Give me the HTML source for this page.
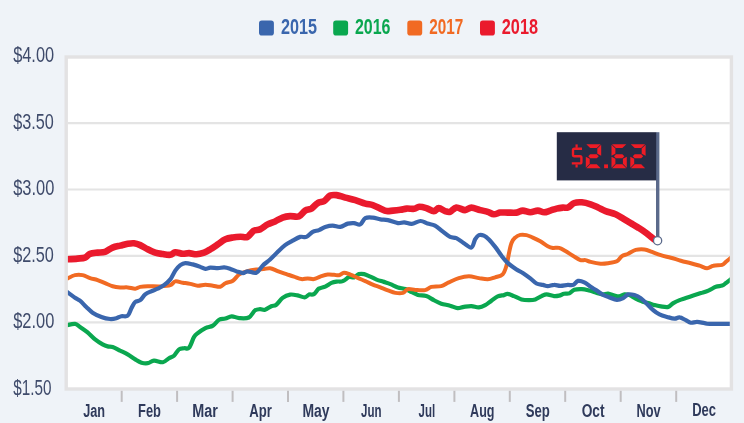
<!DOCTYPE html><html><head><meta charset="utf-8"><title>chart</title>
<style>html,body{margin:0;padding:0;background:#eff3f8;}body{width:744px;height:423px;overflow:hidden;font-family:"Liberation Sans",sans-serif;}svg{display:block;will-change:transform;}text{font-family:"Liberation Sans",sans-serif;}</style></head><body>
<svg width="744" height="423" viewBox="0 0 744 423">
<rect x="66.2" y="57" width="665.2" height="332" fill="#ffffff" stroke="#e3e2e3" stroke-width="3.4"/>
<line x1="67.9" x2="729.8" y1="123.1" y2="123.1" stroke="#e4e4e4" stroke-width="2.2"/>
<line x1="67.9" x2="729.8" y1="189.5" y2="189.5" stroke="#e4e4e4" stroke-width="2.2"/>
<line x1="67.9" x2="729.8" y1="255.9" y2="255.9" stroke="#e4e4e4" stroke-width="2.2"/>
<line x1="67.9" x2="729.8" y1="322.3" y2="322.3" stroke="#e4e4e4" stroke-width="2.2"/>
<line x1="121.7" x2="121.7" y1="390.8" y2="401.9" stroke="#c0bec0" stroke-width="2"/>
<line x1="177.1" x2="177.1" y1="390.8" y2="401.9" stroke="#c0bec0" stroke-width="2"/>
<line x1="232.6" x2="232.6" y1="390.8" y2="401.9" stroke="#c0bec0" stroke-width="2"/>
<line x1="288.0" x2="288.0" y1="390.8" y2="401.9" stroke="#c0bec0" stroke-width="2"/>
<line x1="343.4" x2="343.4" y1="390.8" y2="401.9" stroke="#c0bec0" stroke-width="2"/>
<line x1="398.9" x2="398.9" y1="390.8" y2="401.9" stroke="#c0bec0" stroke-width="2"/>
<line x1="454.4" x2="454.4" y1="390.8" y2="401.9" stroke="#c0bec0" stroke-width="2"/>
<line x1="509.8" x2="509.8" y1="390.8" y2="401.9" stroke="#c0bec0" stroke-width="2"/>
<line x1="565.2" x2="565.2" y1="390.8" y2="401.9" stroke="#c0bec0" stroke-width="2"/>
<line x1="620.7" x2="620.7" y1="390.8" y2="401.9" stroke="#c0bec0" stroke-width="2"/>
<line x1="676.2" x2="676.2" y1="390.8" y2="401.9" stroke="#c0bec0" stroke-width="2"/>
<text x="13.2" y="62.3" font-size="22.7" fill="#3f4b6b" textLength="40.9" lengthAdjust="spacingAndGlyphs">$4.00</text>
<text x="13.2" y="128.8" font-size="22.7" fill="#3f4b6b" textLength="40.6" lengthAdjust="spacingAndGlyphs">$3.50</text>
<text x="13.2" y="195.3" font-size="22.7" fill="#3f4b6b" textLength="41.1" lengthAdjust="spacingAndGlyphs">$3.00</text>
<text x="13.2" y="261.8" font-size="22.7" fill="#3f4b6b" textLength="40.7" lengthAdjust="spacingAndGlyphs">$2.50</text>
<text x="13.2" y="328.3" font-size="22.7" fill="#3f4b6b" textLength="41.1" lengthAdjust="spacingAndGlyphs">$2.00</text>
<text x="13.2" y="394.8" font-size="22.7" fill="#3f4b6b" textLength="38.2" lengthAdjust="spacingAndGlyphs">$1.50</text>
<text x="83.2" y="417.4" font-size="19.2" font-weight="bold" fill="#2f3a5b" textLength="21.9" lengthAdjust="spacingAndGlyphs">Jan</text>
<text x="138.1" y="417.4" font-size="19.2" font-weight="bold" fill="#2f3a5b" textLength="22.9" lengthAdjust="spacingAndGlyphs">Feb</text>
<text x="192.2" y="417.4" font-size="19.2" font-weight="bold" fill="#2f3a5b" textLength="25.6" lengthAdjust="spacingAndGlyphs">Mar</text>
<text x="249.2" y="417.4" font-size="19.2" font-weight="bold" fill="#2f3a5b" textLength="22.6" lengthAdjust="spacingAndGlyphs">Apr</text>
<text x="302.4" y="417.4" font-size="19.2" font-weight="bold" fill="#2f3a5b" textLength="27.1" lengthAdjust="spacingAndGlyphs">May</text>
<text x="361.1" y="417.4" font-size="19.2" font-weight="bold" fill="#2f3a5b" textLength="20.5" lengthAdjust="spacingAndGlyphs">Jun</text>
<text x="418.5" y="417.4" font-size="19.2" font-weight="bold" fill="#2f3a5b" textLength="16.6" lengthAdjust="spacingAndGlyphs">Jul</text>
<text x="470.1" y="417.4" font-size="19.2" font-weight="bold" fill="#2f3a5b" textLength="24.4" lengthAdjust="spacingAndGlyphs">Aug</text>
<text x="525.7" y="417.4" font-size="19.2" font-weight="bold" fill="#2f3a5b" textLength="24.1" lengthAdjust="spacingAndGlyphs">Sep</text>
<text x="581.7" y="417.4" font-size="19.2" font-weight="bold" fill="#2f3a5b" textLength="22.9" lengthAdjust="spacingAndGlyphs">Oct</text>
<text x="636.6" y="417.4" font-size="19.2" font-weight="bold" fill="#2f3a5b" textLength="24.1" lengthAdjust="spacingAndGlyphs">Nov</text>
<text x="692.2" y="416.4" font-size="19.2" font-weight="bold" fill="#2f3a5b" textLength="23.8" lengthAdjust="spacingAndGlyphs">Dec</text>
<rect x="259" y="20.6" width="14.9" height="14.9" rx="2.8" fill="#3a66ad"/>
<text x="281" y="34.4" font-size="22.9" font-weight="bold" fill="#3a66ad" textLength="36" lengthAdjust="spacingAndGlyphs">2015</text>
<rect x="333.2" y="20.6" width="14.9" height="14.9" rx="2.8" fill="#0aa74f"/>
<text x="355" y="34.4" font-size="22.9" font-weight="bold" fill="#0aa74f" textLength="35.5" lengthAdjust="spacingAndGlyphs">2016</text>
<rect x="407.3" y="20.6" width="14.9" height="14.9" rx="2.8" fill="#f16a23"/>
<text x="429.2" y="34.4" font-size="22.9" font-weight="bold" fill="#f16a23" textLength="34" lengthAdjust="spacingAndGlyphs">2017</text>
<rect x="480" y="20.6" width="14.9" height="14.9" rx="2.8" fill="#ea1a2d"/>
<text x="501.8" y="34.4" font-size="22.9" font-weight="bold" fill="#ea1a2d" textLength="36.2" lengthAdjust="spacingAndGlyphs">2018</text>
<defs><clipPath id="pc"><rect x="67.9" y="58.7" width="661.9" height="328.6"/></clipPath></defs>
<path d="M66.5,325.3C67.9,325.1 72.8,323.6 75.0,323.9C77.2,324.2 77.9,325.5 80.0,326.9C82.1,328.3 85.1,330.3 87.6,332.4C90.1,334.5 92.6,337.4 95.1,339.4C97.6,341.4 100.5,343.2 102.6,344.4C104.7,345.6 105.9,346.0 107.6,346.4C109.3,346.8 110.5,346.2 112.6,346.9C114.7,347.6 117.7,349.4 120.2,350.7C122.7,351.9 125.2,352.9 127.7,354.4C130.2,355.8 132.9,358.0 135.2,359.4C137.5,360.8 139.4,362.1 141.5,362.7C143.6,363.3 145.6,363.5 147.7,363.2C149.8,362.9 151.5,360.9 154.0,360.7C156.5,360.5 160.3,362.6 162.8,362.2C165.3,361.8 167.1,359.3 169.0,358.2C170.9,357.1 172.3,357.2 174.0,355.7C175.7,354.2 177.3,350.6 179.0,349.4C180.7,348.1 182.4,348.5 184.1,348.2C185.8,347.9 187.4,349.6 189.1,347.7C190.8,345.8 192.6,339.3 194.1,336.9C195.6,334.5 195.9,334.6 197.8,333.1C199.7,331.6 202.9,329.4 205.4,328.1C207.9,326.9 210.6,327.0 212.9,325.6C215.2,324.2 217.0,321.0 219.1,319.8C221.2,318.6 223.3,319.2 225.4,318.6C227.5,318.0 229.4,316.4 231.7,316.3C234.0,316.2 236.3,317.9 239.2,318.1C242.0,318.3 246.2,318.8 248.8,317.5C251.4,316.2 253.1,311.8 255.0,310.4C256.9,309.0 258.3,309.3 260.0,309.2C261.7,309.1 263.2,310.2 265.1,309.7C267.0,309.2 269.4,307.0 271.3,306.2C273.2,305.4 274.4,306.1 276.3,304.7C278.2,303.3 280.3,299.6 282.6,297.9C284.9,296.2 287.6,295.0 290.1,294.6C292.6,294.2 295.2,294.9 297.6,295.4C300.0,295.9 302.8,297.5 304.7,297.4C306.6,297.3 307.4,295.2 308.9,294.6C310.4,294.1 312.2,295.1 313.9,294.1C315.6,293.1 317.0,289.9 318.9,288.6C320.8,287.4 323.1,287.6 325.2,286.6C327.3,285.7 329.6,283.7 331.5,282.9C333.4,282.1 334.6,281.9 336.5,281.6C338.4,281.3 340.7,281.9 342.8,281.1C344.9,280.4 347.1,277.7 349.0,277.1C350.9,276.5 352.3,277.9 354.0,277.4C355.7,276.9 357.3,274.7 359.0,274.1C360.7,273.6 362.2,273.7 364.1,274.1C366.0,274.5 368.2,275.7 370.3,276.6C372.4,277.5 374.5,278.8 376.6,279.6C378.7,280.4 380.6,280.9 382.9,281.6C385.2,282.4 387.9,283.1 390.4,284.1C392.9,285.1 395.4,286.6 397.9,287.4C400.4,288.2 403.1,288.3 405.4,289.1C407.7,289.9 409.6,291.1 411.7,292.1C413.8,293.1 415.5,294.2 417.9,294.9C420.3,295.6 423.6,295.2 426.3,296.1C429.0,297.0 431.3,298.8 433.8,300.1C436.3,301.4 438.6,302.8 441.3,303.7C444.0,304.6 447.4,304.9 450.1,305.7C452.8,306.4 455.3,308.0 457.6,308.2C459.9,308.4 461.6,307.2 463.9,306.9C466.2,306.6 468.9,306.1 471.4,306.2C473.9,306.3 476.6,307.6 478.9,307.4C481.2,307.2 483.1,306.3 485.2,305.2C487.3,304.1 489.3,302.2 491.4,300.7C493.5,299.2 495.6,297.3 497.7,296.4C499.8,295.5 502.3,295.5 504.0,295.1C505.7,294.7 506.0,293.7 507.7,293.9C509.4,294.1 511.7,295.2 514.0,296.1C516.3,297.0 519.0,298.7 521.5,299.4C524.0,300.1 526.7,300.1 529.0,300.1C531.3,300.1 533.2,300.1 535.3,299.4C537.4,298.7 539.7,296.9 541.6,296.1C543.5,295.3 544.5,294.4 546.6,294.4C548.7,294.4 552.0,295.9 554.1,296.1C556.2,296.3 557.4,296.0 559.1,295.6C560.8,295.2 562.4,294.2 564.1,293.8C565.8,293.4 567.6,294.1 569.3,293.4C571.0,292.7 572.2,290.5 574.3,289.8C576.4,289.1 579.3,289.0 581.8,289.1C584.3,289.2 586.8,289.9 589.3,290.5C591.8,291.1 594.5,292.2 596.8,292.9C599.1,293.5 601.2,294.3 603.1,294.4C605.0,294.5 606.2,293.4 608.1,293.6C610.0,293.8 612.5,295.1 614.4,295.6C616.3,296.1 617.7,296.6 619.4,296.4C621.1,296.2 622.7,294.6 624.4,294.4C626.1,294.2 627.5,294.4 629.4,295.1C631.3,295.8 633.6,297.6 635.7,298.6C637.8,299.7 639.9,300.6 642.0,301.4C644.1,302.1 646.1,302.5 648.2,303.1C650.3,303.7 652.4,304.6 654.5,305.1C656.6,305.7 658.5,306.1 660.8,306.4C663.1,306.7 666.2,307.4 668.3,306.9C670.4,306.3 671.4,304.2 673.3,303.1C675.2,302.0 677.5,300.9 679.6,300.1C681.7,299.3 683.5,298.9 685.8,298.1C688.1,297.4 690.8,296.4 693.3,295.6C695.8,294.8 698.4,293.9 700.9,293.1C703.4,292.3 705.9,291.7 708.4,290.6C710.9,289.6 713.6,287.6 715.9,286.8C718.2,286.0 720.5,286.2 722.2,285.6C723.9,285.0 724.6,284.0 725.9,283.1C727.1,282.2 728.8,280.8 729.7,280.1C730.6,279.4 731.2,278.9 731.5,278.7" fill="none" stroke="#0aa74f" stroke-width="4.2" stroke-linejoin="round" stroke-linecap="butt" clip-path="url(#pc)"/>
<path d="M66.5,278.9C67.9,278.3 72.3,275.7 75.0,275.1C77.7,274.5 80.1,274.6 82.6,275.1C85.1,275.6 87.6,277.3 90.1,278.1C92.6,278.9 95.1,279.2 97.6,280.1C100.1,281.0 102.6,282.2 105.1,283.2C107.6,284.2 110.1,285.5 112.6,286.2C115.1,286.9 117.7,287.2 120.2,287.4C122.7,287.6 125.2,287.2 127.7,287.4C130.2,287.6 133.1,288.8 135.2,288.7C137.3,288.6 138.1,287.3 140.2,286.9C142.3,286.5 144.3,286.3 147.7,286.2C151.0,286.1 156.5,286.6 160.3,286.4C164.1,286.2 167.8,286.0 170.3,285.2C172.8,284.4 173.2,281.8 175.3,281.4C177.4,281.0 180.3,282.3 182.8,282.7C185.3,283.1 187.8,283.4 190.3,283.9C192.8,284.4 195.3,285.6 197.8,285.7C200.3,285.8 202.9,284.7 205.4,284.7C207.9,284.7 210.4,285.4 212.9,285.7C215.4,286.0 218.3,287.1 220.4,286.7C222.5,286.3 223.3,284.2 225.4,283.2C227.5,282.2 230.6,282.2 232.9,280.7C235.2,279.2 236.8,276.0 239.2,274.4C241.6,272.8 244.7,271.9 247.5,271.1C250.3,270.3 253.6,269.9 256.3,269.6C259.0,269.3 261.5,269.3 263.8,269.1C266.1,268.9 267.8,268.0 270.1,268.3C272.4,268.6 274.9,270.1 277.6,271.1C280.3,272.1 283.7,273.2 286.4,274.1C289.1,275.0 291.4,275.8 293.9,276.6C296.4,277.4 299.1,278.8 301.4,279.1C303.7,279.4 305.6,278.4 307.7,278.4C309.8,278.4 311.8,279.4 313.9,279.1C316.0,278.8 317.9,277.4 320.2,276.6C322.5,275.9 325.4,274.9 327.7,274.6C330.0,274.3 332.1,274.7 334.0,274.8C335.9,274.9 337.3,275.6 339.0,275.3C340.7,275.0 342.1,272.9 344.0,272.8C345.9,272.7 348.0,273.8 350.3,274.6C352.6,275.5 355.3,276.8 357.8,277.9C360.3,279.0 362.8,280.0 365.3,281.1C367.8,282.2 370.3,283.6 372.8,284.6C375.3,285.7 377.9,286.4 380.4,287.4C382.9,288.4 385.4,289.5 387.9,290.4C390.4,291.3 392.9,292.5 395.4,292.9C397.9,293.3 400.8,293.5 402.9,292.9C405.0,292.3 405.8,289.6 407.9,289.1C410.0,288.6 412.5,289.7 415.4,289.9C418.2,290.1 422.4,290.6 425.0,290.1C427.6,289.6 428.6,287.6 431.3,286.9C434.0,286.2 438.4,286.9 441.3,286.1C444.2,285.4 445.9,283.7 448.8,282.4C451.7,281.1 455.5,279.1 458.8,278.1C462.1,277.1 465.5,276.3 468.9,276.3C472.2,276.3 475.8,277.6 478.9,278.1C482.0,278.6 485.0,279.4 487.7,279.3C490.4,279.2 492.7,278.1 495.2,277.3C497.7,276.5 500.8,276.2 502.7,274.3C504.6,272.4 505.4,269.2 506.5,265.6C507.6,262.1 508.2,256.8 509.0,253.0C509.8,249.2 510.5,245.6 511.5,243.0C512.5,240.4 513.7,238.9 515.2,237.6C516.7,236.2 518.4,235.3 520.3,234.9C522.2,234.5 524.4,234.7 526.5,235.1C528.6,235.5 530.5,236.6 532.8,237.6C535.1,238.6 537.8,239.8 540.3,241.2C542.8,242.6 545.7,245.1 547.8,246.2C549.9,247.3 550.9,247.6 552.8,247.9C554.7,248.2 557.0,247.4 559.1,247.9C561.2,248.4 563.1,249.7 565.4,251.0C567.7,252.3 570.4,254.2 572.9,255.7C575.4,257.2 578.3,259.4 580.4,260.1C582.5,260.8 583.7,259.8 585.4,260.1C587.1,260.4 588.1,261.3 590.6,261.9C593.1,262.5 597.7,263.5 600.6,263.7C603.5,263.9 605.4,263.6 608.1,263.2C610.8,262.8 614.6,262.4 616.9,261.2C619.2,260.0 620.0,257.4 621.9,256.2C623.8,254.9 625.9,254.8 628.2,253.7C630.5,252.6 633.0,250.6 635.7,249.9C638.4,249.2 641.8,249.1 644.5,249.4C647.2,249.7 649.3,250.9 652.0,251.9C654.7,252.9 657.7,254.2 660.8,255.2C663.9,256.2 667.5,256.8 670.8,257.7C674.1,258.6 677.5,259.8 680.8,260.7C684.1,261.6 687.7,262.4 690.8,263.2C693.9,264.0 696.9,264.9 699.6,265.7C702.3,266.5 704.8,268.2 707.1,268.2C709.4,268.2 710.9,266.2 713.4,265.7C715.9,265.1 720.1,265.5 722.2,264.9C724.3,264.3 724.6,262.9 725.9,261.9C727.1,260.9 728.8,259.5 729.7,258.7C730.6,257.9 731.2,257.4 731.5,257.1" fill="none" stroke="#f16a23" stroke-width="4.0" stroke-linejoin="round" stroke-linecap="butt" clip-path="url(#pc)"/>
<path d="M66.5,291.5C67.9,292.5 72.8,296.2 75.0,297.7C77.2,299.2 78.1,299.1 80.0,300.7C81.9,302.2 84.2,305.0 86.3,307.0C88.4,309.0 90.1,311.0 92.6,312.7C95.1,314.4 98.5,315.9 101.4,317.0C104.3,318.1 107.6,318.8 110.1,319.0C112.6,319.2 114.5,318.7 116.4,318.2C118.3,317.7 119.5,316.6 121.4,316.2C123.3,315.8 126.0,317.0 127.7,315.7C129.4,314.4 130.2,310.5 131.4,308.2C132.7,305.9 133.7,303.3 135.2,302.0C136.7,300.7 138.5,301.5 140.2,300.2C141.9,298.9 143.3,295.9 145.2,294.4C147.1,292.9 149.4,292.1 151.5,291.2C153.6,290.2 155.6,289.7 157.7,288.7C159.8,287.7 161.9,286.8 164.0,285.2C166.1,283.6 168.4,281.8 170.3,279.4C172.2,277.0 173.6,273.0 175.3,270.6C177.0,268.2 178.6,266.4 180.3,265.1C182.0,263.9 183.2,263.2 185.3,263.1C187.4,263.0 190.3,263.8 192.8,264.4C195.3,265.0 198.3,266.1 200.4,266.9C202.5,267.6 203.7,268.8 205.4,268.9C207.1,269.0 208.3,267.7 210.4,267.6C212.5,267.5 215.6,268.1 217.9,268.1C220.2,268.1 222.1,267.3 224.2,267.4C226.3,267.5 228.3,268.2 230.4,268.9C232.5,269.6 234.6,270.7 236.7,271.4C238.8,272.1 241.2,273.1 243.0,273.1C244.8,273.1 245.3,271.4 247.5,271.3C249.7,271.2 253.8,273.7 256.3,272.8C258.8,271.9 260.3,267.9 262.6,265.7C264.9,263.5 267.6,261.8 270.1,259.5C272.6,257.2 275.1,254.4 277.6,252.0C280.1,249.6 282.6,247.1 285.1,245.2C287.6,243.3 290.1,242.1 292.6,240.7C295.1,239.3 297.9,237.5 300.2,236.9C302.5,236.3 304.3,237.7 306.4,236.9C308.5,236.1 310.6,233.0 312.7,231.9C314.8,230.8 316.9,230.9 319.0,230.1C321.1,229.3 322.9,227.7 325.2,226.9C327.5,226.2 330.2,225.6 332.7,225.6C335.2,225.6 337.8,227.2 340.3,226.9C342.8,226.6 345.5,224.2 347.8,223.6C350.1,223.0 351.9,223.0 354.0,223.1C356.1,223.2 358.4,225.2 360.3,224.4C362.2,223.6 363.2,219.2 365.3,218.1C367.4,217.0 370.3,217.4 372.8,217.6C375.3,217.8 377.9,219.0 380.4,219.4C382.9,219.8 385.0,219.5 387.9,220.1C390.8,220.7 395.2,222.7 397.9,223.1C400.6,223.5 401.9,222.3 404.2,222.4C406.5,222.5 409.0,224.1 411.7,223.9C414.4,223.7 417.9,221.1 420.5,221.0C423.1,220.9 425.1,222.8 427.5,223.6C429.9,224.4 432.5,224.3 435.0,225.6C437.5,226.9 440.1,229.5 442.6,231.4C445.1,233.3 447.8,235.8 450.1,236.9C452.4,238.0 454.0,237.1 456.3,238.1C458.6,239.1 461.4,241.6 463.9,243.2C466.4,244.8 469.5,248.1 471.4,247.5C473.3,246.9 473.9,241.5 475.1,239.4C476.4,237.3 477.4,235.7 478.9,235.1C480.4,234.5 482.2,234.9 483.9,235.6C485.6,236.3 487.0,237.5 488.9,239.4C490.8,241.3 493.1,244.2 495.2,246.9C497.3,249.6 499.4,253.0 501.5,255.7C503.6,258.4 505.2,260.6 507.7,262.9C510.2,265.2 514.0,267.8 516.5,269.5C519.0,271.2 520.5,271.4 522.8,272.9C525.1,274.4 528.0,276.6 530.3,278.4C532.6,280.2 534.4,282.4 536.5,283.5C538.6,284.6 540.9,284.5 542.8,284.9C544.7,285.3 545.9,286.1 547.8,286.1C549.7,286.1 552.0,284.9 554.1,284.9C556.2,284.8 558.1,285.8 560.4,285.8C562.7,285.8 565.8,285.0 567.9,284.9C570.0,284.8 571.5,285.6 573.2,284.9C574.9,284.2 576.1,281.3 578.0,280.9C579.9,280.5 582.2,281.3 584.3,282.3C586.4,283.3 588.5,285.4 590.6,286.8C592.7,288.2 594.7,289.2 596.8,290.6C598.9,292.0 601.0,293.8 603.1,294.9C605.2,296.0 607.1,296.6 609.4,297.4C611.7,298.2 614.6,299.8 616.9,299.9C619.2,300.0 621.3,299.0 623.2,298.1C625.1,297.2 626.3,294.9 628.2,294.4C630.1,293.9 632.3,294.5 634.4,295.1C636.5,295.7 638.6,296.6 640.7,298.1C642.8,299.6 644.9,301.9 647.0,303.9C649.1,305.9 651.1,308.4 653.2,310.1C655.3,311.9 657.2,313.3 659.5,314.4C661.8,315.5 664.5,316.2 667.0,316.9C669.5,317.6 672.4,318.6 674.5,318.7C676.6,318.8 677.7,317.1 679.6,317.4C681.5,317.6 683.9,319.3 685.8,320.2C687.7,321.1 688.9,322.4 690.8,322.7C692.7,323.0 694.8,321.8 697.1,321.9C699.4,322.0 702.5,322.9 704.6,323.2C706.7,323.5 705.0,323.8 709.6,323.9C714.2,324.0 728.3,323.9 732.0,323.9" fill="none" stroke="#3a66ad" stroke-width="4.2" stroke-linejoin="round" stroke-linecap="butt" clip-path="url(#pc)"/>
<path d="M66.5,259.3C68.3,259.2 74.4,258.9 77.5,258.6C80.6,258.3 82.9,258.4 85.0,257.6C87.1,256.8 87.9,254.6 90.0,253.8C92.1,253.0 95.1,252.9 97.6,252.6C100.1,252.3 102.6,252.6 105.1,251.8C107.6,251.0 110.1,248.6 112.6,247.6C115.1,246.6 117.7,246.2 120.2,245.6C122.7,245.0 125.4,244.2 127.7,243.8C130.0,243.4 131.9,243.1 134.0,243.3C136.1,243.5 137.9,244.1 140.2,245.1C142.5,246.1 145.2,248.1 147.7,249.3C150.2,250.6 152.7,251.8 155.2,252.6C157.7,253.4 160.3,253.7 162.8,254.1C165.3,254.5 168.2,255.1 170.3,254.8C172.4,254.5 173.2,252.5 175.3,252.3C177.4,252.1 180.5,253.7 182.8,253.8C185.1,253.9 186.8,253.0 189.1,253.1C191.4,253.2 194.1,254.4 196.6,254.3C199.1,254.2 201.8,253.4 204.1,252.6C206.4,251.8 208.1,250.7 210.4,249.3C212.7,247.9 215.4,246.0 217.9,244.3C220.4,242.6 222.9,240.4 225.4,239.3C227.9,238.2 230.4,237.9 232.9,237.5C235.4,237.1 238.1,236.9 240.5,236.8C242.9,236.7 245.3,237.9 247.5,236.9C249.7,235.9 251.7,231.9 253.8,230.7C255.9,229.4 257.7,230.4 260.0,229.4C262.3,228.4 265.1,225.7 267.6,224.4C270.1,223.1 272.6,222.5 275.1,221.4C277.6,220.3 280.1,218.5 282.6,217.6C285.1,216.7 287.4,216.3 290.1,216.1C292.8,215.9 296.4,217.3 298.9,216.4C301.4,215.5 303.1,211.9 305.2,210.6C307.3,209.3 309.3,209.8 311.4,208.6C313.5,207.3 315.6,204.3 317.7,203.1C319.8,201.8 321.9,202.3 324.0,201.1C326.1,199.8 328.1,196.6 330.2,195.6C332.3,194.6 334.0,194.8 336.5,195.1C339.0,195.4 342.2,196.8 345.3,197.6C348.4,198.4 352.0,199.1 355.3,200.1C358.6,201.1 362.4,202.8 365.3,203.6C368.2,204.4 370.3,204.3 372.8,205.1C375.3,205.9 378.1,207.6 380.4,208.6C382.7,209.6 384.5,210.8 386.6,211.1C388.7,211.4 390.6,210.8 392.9,210.6C395.2,210.4 398.1,210.1 400.4,209.8C402.7,209.5 404.4,208.8 406.7,208.6C409.0,208.4 412.1,209.1 414.2,208.8C416.3,208.5 417.2,206.9 419.2,206.8C421.2,206.7 423.9,207.4 426.3,208.1C428.7,208.8 431.7,211.1 433.8,211.1C435.9,211.1 436.9,208.1 438.8,208.1C440.7,208.1 443.2,210.5 445.1,211.1C447.0,211.7 448.2,212.4 450.1,211.8C452.0,211.2 453.8,207.9 456.3,207.6C458.8,207.3 462.6,210.1 465.1,210.1C467.6,210.1 468.9,207.6 471.4,207.6C473.9,207.6 477.5,209.4 480.2,210.1C482.9,210.8 485.4,211.1 487.7,211.8C490.0,212.5 491.8,214.2 493.9,214.3C496.0,214.4 497.9,212.9 500.2,212.6C502.5,212.3 505.0,212.6 507.7,212.6C510.4,212.6 514.0,212.9 516.5,212.6C519.0,212.3 520.5,210.6 522.8,210.6C525.1,210.6 527.8,212.3 530.3,212.3C532.8,212.3 535.5,210.6 537.8,210.6C540.1,210.6 542.0,212.3 544.1,212.3C546.2,212.3 548.2,211.2 550.3,210.6C552.4,210.0 554.5,209.1 556.6,208.6C558.7,208.1 561.0,207.8 562.9,207.6C564.8,207.4 566.1,208.3 568.0,207.5C569.9,206.7 572.0,203.9 574.3,203.0C576.6,202.1 579.1,202.1 581.8,202.3C584.5,202.5 587.9,203.4 590.6,204.3C593.3,205.2 595.6,206.4 598.1,207.5C600.6,208.6 602.7,210.0 605.6,211.1C608.5,212.2 612.7,213.1 615.6,214.3C618.5,215.6 620.7,217.1 623.2,218.6C625.7,220.1 628.2,221.6 630.7,223.1C633.2,224.6 635.7,226.0 638.2,227.6C640.7,229.2 643.4,230.9 645.7,232.6C648.0,234.3 650.3,236.3 652.0,237.6C653.7,238.9 655.1,240.1 655.7,240.6" fill="none" stroke="#ea1a2d" stroke-width="6.6" stroke-linejoin="round" stroke-linecap="butt" clip-path="url(#pc)"/>
<rect x="656" y="132.2" width="3.4" height="105" fill="#5b6a8b"/>
<rect x="556.8" y="132.2" width="99.4" height="48.2" fill="#262c45"/>
<circle cx="657.6" cy="240.7" r="4.1" fill="#ffffff" stroke="#5b6a8b" stroke-width="1.3"/>
<polygon points="586.30,144.20 600.70,144.20 596.80,148.10 590.20,148.10" fill="#ee1c25"/><polygon points="601.20,144.70 597.30,148.60 597.30,153.75 601.20,155.70" fill="#ee1c25"/><polygon points="588.25,156.20 590.20,154.25 596.80,154.25 598.75,156.20 596.80,158.15 590.20,158.15" fill="#ee1c25"/><polygon points="585.80,156.70 589.70,158.65 589.70,163.80 585.80,167.70" fill="#ee1c25"/><polygon points="586.30,168.20 600.70,168.20 596.80,164.30 590.20,164.30" fill="#ee1c25"/>
<rect x="604.1" y="164.4" width="3.9" height="3.8" fill="#ee1c25"/>
<polygon points="612.00,144.20 626.30,144.20 622.40,148.10 615.90,148.10" fill="#ee1c25"/><polygon points="611.50,144.70 615.40,148.60 615.40,153.75 611.50,155.70" fill="#ee1c25"/><polygon points="613.95,156.20 615.90,154.25 622.40,154.25 624.35,156.20 622.40,158.15 615.90,158.15" fill="#ee1c25"/><polygon points="611.50,156.70 615.40,158.65 615.40,163.80 611.50,167.70" fill="#ee1c25"/><polygon points="612.00,168.20 626.30,168.20 622.40,164.30 615.90,164.30" fill="#ee1c25"/><polygon points="626.80,156.70 622.90,158.65 622.90,163.80 626.80,167.70" fill="#ee1c25"/>
<polygon points="630.80,144.20 645.10,144.20 641.20,148.10 634.70,148.10" fill="#ee1c25"/><polygon points="645.60,144.70 641.70,148.60 641.70,153.75 645.60,155.70" fill="#ee1c25"/><polygon points="632.75,156.20 634.70,154.25 641.20,154.25 643.15,156.20 641.20,158.15 634.70,158.15" fill="#ee1c25"/><polygon points="630.30,156.70 634.20,158.65 634.20,163.80 630.30,167.70" fill="#ee1c25"/><polygon points="630.80,168.20 645.10,168.20 641.20,164.30 634.70,164.30" fill="#ee1c25"/>
<path d="M582,148.7 H574.4 Q573,148.7 573,150.1 V154.8 Q573,156.2 574.4,156.2 H580 Q581.4,156.2 581.4,157.6 V162 Q581.4,163.4 580,163.4 H571.8" fill="none" stroke="#ee1c25" stroke-width="2.4"/>
<rect x="575.5" y="144.4" width="2.2" height="3.4" fill="#ee1c25"/>
<rect x="575.5" y="164.4" width="2.2" height="3.1" fill="#ee1c25"/>
</svg></body></html>
